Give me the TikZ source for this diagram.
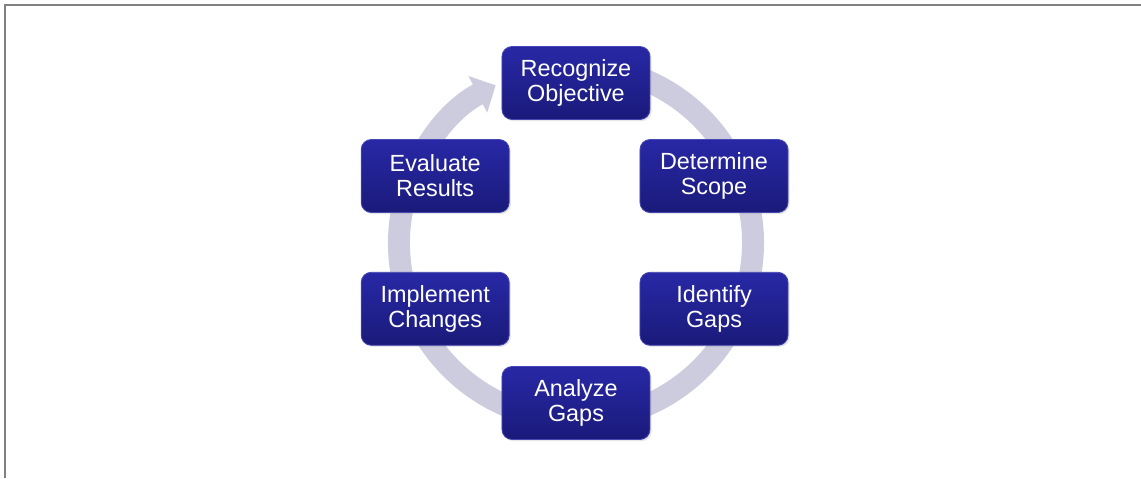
\documentclass[tikz,border=0pt]{standalone}
\usepackage{fontspec}
\setmainfont{Liberation Sans}
\usepackage{tikz}
\usetikzlibrary{positioning, arrows.meta, shadows}

\definecolor{stepblue}{RGB}{40,40,166}
\definecolor{stepdark}{RGB}{26,26,122}
\definecolor{stepedge}{RGB}{72,72,180}
\definecolor{ringgray}{RGB}{204,204,222}
\definecolor{framegray}{RGB}{128,128,128}

\begin{document}
\begin{tikzpicture}[x=0.5pt, y=0.5pt,
        stepnode/.style={rectangle, rounded corners=5pt, top color=stepblue, bottom color=stepdark, draw=stepedge, thin,
                text=white, align=center, minimum width=74pt, minimum height=36.5pt, inner sep=2pt,
                font=\fontsize{11.7}{12.5}\selectfont,
                drop shadow={opacity=0.2, shadow xshift=0.8pt, shadow yshift=-0.8pt}},
        ring/.style={line width=11pt, draw=ringgray, -{Triangle[width=20pt, length=10pt]}},
]
        % frame and bounding box
        \useasboundingbox (-576,-235) rectangle (565,243);
        \draw[framegray, line width=0.6pt] (-571,-235) -- (-571,238) -- (565,238);

        % the cycle ring
        \coordinate (hub) at (0,0);
        \draw[ring] ([shift={(80:177)}]hub) arc[start angle=80, end angle=-243, radius=177];

        % steps
        \node[stepnode] (reco) at (0,160) {Recognize\\Objective};
        \node[stepnode] (scope) at (138,67) {Determine\\Scope};
        \node[stepnode] (idgap) [below=29.5pt of scope] {Identify\\Gaps};
        \node[stepnode] (anagap) at (0,-160) {Analyze\\Gaps};
        \node[stepnode] (evalres) [left=65pt of scope] {Evaluate\\Results};
        \node[stepnode] (implch) [left=65pt of idgap] {Implement\\Changes};
\end{tikzpicture}
\end{document}
